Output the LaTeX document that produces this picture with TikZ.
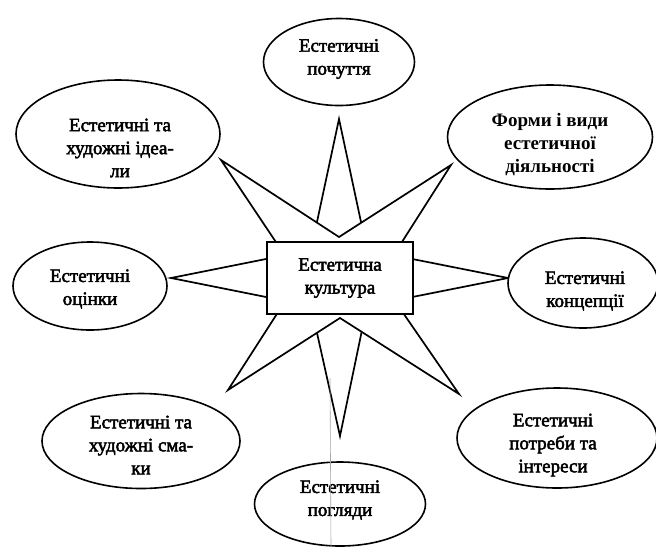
\documentclass[tikz,border=0pt]{standalone}
\usepackage{fontspec}
\setmainfont{Liberation Serif}
\newfontface\scanfont{Liberation Serif}[FakeBold=2.5]
\usetikzlibrary{shapes.geometric}
\begin{document}
\begin{tikzpicture}[x=1pt,y=-1pt,
  txt/.style={align=center, inner sep=0pt, font=\scanfont\fontsize{19}{23}\selectfont},
  bub/.style={ellipse, draw, line width=1.6pt, fill=white, inner sep=0pt},
  spike/.style={draw, line width=1.7pt, fill=white, line join=miter},
  core/.style={rectangle, draw, line width=1.7pt, fill=white, inner sep=0pt, txt}]
\useasboundingbox (0,0) rectangle (656,547);
% four orthogonal spikes
\draw[spike] (339,119) -- (367,250) -- (508,278) -- (367,306) -- (340,436)
  -- (311,306) -- (171,278) -- (311,250) -- cycle;
% four diagonal spikes
\draw[spike] (221,160) -- (339,237) -- (451,165) -- (379,278) -- (459,394)
  -- (340,318) -- (228,390) -- (300,278) -- cycle;
% centre
\node[core, minimum width=146pt, minimum height=72pt] (c) at (340,278) {Естетична\\культура};
% ellipses
\node[bub, minimum width=151pt, minimum height=87pt] (n) at (339,62) {};
\node[bub, minimum width=204pt, minimum height=108pt] (nw) at (118,134) {};
\node[bub, minimum width=205pt, minimum height=104pt] (ne) at (550,137) {};
\node[bub, minimum width=154pt, minimum height=88pt] (w) at (90,286) {};
\node[bub, minimum width=150pt, minimum height=90pt] (e) at (583,283) {};
\node[bub, minimum width=198pt, minimum height=95pt] (sw) at (141,441) {};
\node[bub, minimum width=200pt, minimum height=100pt] (se) at (557,438) {};
\node[bub, minimum width=171pt, minimum height=84pt] (s) at (340,504) {};
% labels
\node[txt] (nt) at (339,59) {Естетичні\\почуття};
\node[txt] (nwt) at (120,148) {Естетичні та\\художні ідеа-\\ли};
\node[txt, font=\fontsize{19}{23}\selectfont\bfseries] (net) at (550,145) {Форми і види\\естетичної\\діяльності};
\node[txt] (wt) at (90,289) {Естетичні\\оцінки};
\node[txt] (et) at (585,291) {Естетичні\\концепції};
\node[txt] (swt) at (141,445) {Естетичні та\\художні сма-\\ки};
\node[txt] (set) at (553,445) {Естетичні\\потреби та\\інтереси};
\node[txt] (st) at (340,500) {Естетичні\\погляди};
% thin scan line
\coordinate (l1) at (330,378);
\coordinate (l2) at (331,547);
\draw[gray!70, line width=0.6pt] (l1) -- (l2);
\end{tikzpicture}
\end{document}
